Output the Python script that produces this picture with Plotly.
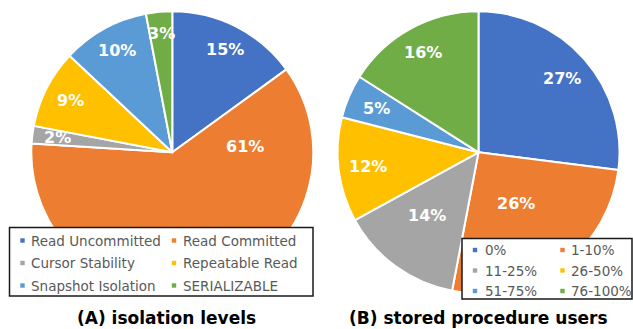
import math
import plotly.graph_objects as go

# ---------------------------------------------------------------- data
iso_levels = ["Read Uncommitted", "Read Committed", "Cursor Stability",
              "Repeatable Read", "Snapshot Isolation", "SERIALIZABLE"]
iso_share = [15, 61, 2, 9, 10, 3]

sp_ranges = ["0%", "1-10%", "11-25%", "26-50%", "51-75%", "76-100%"]
sp_share = [27, 26, 14, 12, 5, 16]

panel_titles = ["(A) isolation levels", "(B) stored procedure users"]

# ---------------------------------------------------------------- style
W, H = 633, 329
colors = ["#4472C4", "#ED7D31", "#A5A5A5", "#FFC000", "#5B9BD5", "#70AD47"]
FONT = "DejaVu Sans"

# pie geometry in pixels: centre x, centre y, radius
pie_geo = [(172.3, 152.3, 141.0), (478.5, 152.3, 141.0)]

# label placement per slice: fraction of radius, angular nudge (deg)
label_r = [[0.82, 0.52, 0.82, 0.81, 0.82, 0.845],
           [0.79, 0.45, 0.58, 0.79, 0.79, 0.81]]
label_shift = [[0, -78, 0, 0, 0, 0],
               [0, 0, 3, 0, 0, 0]]

# legend boxes (pixels): left, top, right, bottom, row ys, marker xs, text xs, font size
legend_geo = [
    dict(box=(9.5, 227.5, 313.0, 296.0), rows=[240.5, 263.0, 285.5],
         mx=[22.5, 174.0], tx=[28.5, 180.5], size=13.5),
    dict(box=(462.0, 238.5, 632.0, 299.0), rows=[250.0, 270.5, 291.0],
         mx=[475.0, 562.5], tx=[482.5, 569.0], size=13.5),
]
title_pos = [(166.0, 318.0), (478.5, 318.0)]


def px(x):
    return x / W


def py(y):
    return 1 - y / H


fig = go.Figure()
annotations = []
shapes = []

for k, (labels, values) in enumerate([(iso_levels, iso_share), (sp_ranges, sp_share)]):
    cx, cy, r = pie_geo[k]
    fig.add_trace(go.Pie(
        labels=labels, values=values, sort=False, direction="clockwise",
        rotation=0, textinfo="none", hoverinfo="label+percent",
        marker=dict(colors=colors, line=dict(color="white", width=2)),
        domain=dict(x=[px(cx - r), px(cx + r)], y=[py(cy + r), py(cy - r)]),
        showlegend=False,
    ))

    # percentage labels at each slice's mid angle
    total = sum(values)
    cum = 0.0
    for i, v in enumerate(values):
        mid = (cum + v / 2) / total * 360 + label_shift[k][i]
        cum += v
        rr = r * label_r[k][i]
        lx = cx + rr * math.sin(math.radians(mid))
        ly = cy - rr * math.cos(math.radians(mid))
        annotations.append(dict(
            x=px(lx), y=py(ly), xref="paper", yref="paper",
            text=f"<b>{round(v / total * 100)}%</b>", showarrow=False,
            font=dict(family=FONT, size=16, color="white"),
            xanchor="center", yanchor="middle"))

    # legend box with two columns of entries
    lg = legend_geo[k]
    x0, y0, x1, y1 = lg["box"]
    shapes.append(dict(type="rect", xref="paper", yref="paper",
                       x0=px(x0), x1=px(x1), y0=py(y1), y1=py(y0),
                       line=dict(color="#1a1a1a", width=1.5),
                       fillcolor="white", layer="above"))
    m = 2.2
    for i, name in enumerate(labels):
        row, col = divmod(i, 2)
        yy = lg["rows"][row]
        mxc = lg["mx"][col]
        shapes.append(dict(type="rect", xref="paper", yref="paper",
                           x0=px(mxc - m), x1=px(mxc + m),
                           y0=py(yy + m), y1=py(yy - m),
                           line=dict(width=0), fillcolor=colors[i], layer="above"))
        annotations.append(dict(
            x=px(lg["tx"][col]), y=py(yy), xref="paper", yref="paper",
            text=name, showarrow=False, xanchor="left", yanchor="middle",
            font=dict(family=FONT, size=lg["size"], color="#595959")))

    # panel caption
    tx, ty = title_pos[k]
    annotations.append(dict(
        x=px(tx), y=py(ty), xref="paper", yref="paper",
        text=f"<b>{panel_titles[k]}</b>", showarrow=False,
        xanchor="center", yanchor="middle",
        font=dict(family=FONT, size=17, color="black")))

fig.update_layout(
    width=W, height=H, margin=dict(l=0, r=0, t=0, b=0),
    paper_bgcolor="white", plot_bgcolor="white",
    showlegend=False, annotations=annotations, shapes=shapes,
)

fig.write_html("out.html")
